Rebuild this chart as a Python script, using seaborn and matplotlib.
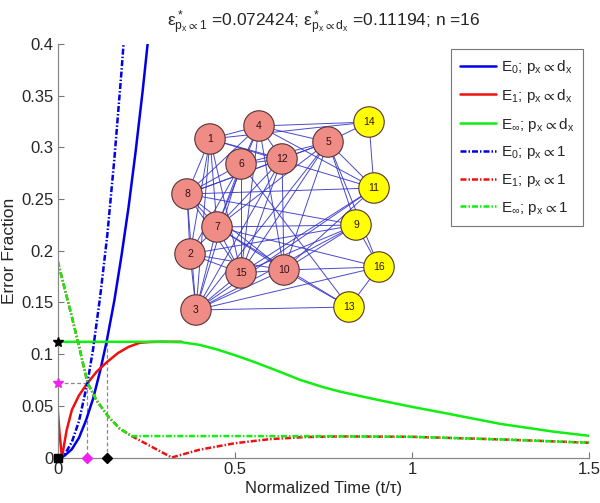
import matplotlib
matplotlib.use('Agg')
import matplotlib.pyplot as plt
import seaborn as sns
import pandas as pd

sns.set_style("ticks")
plt.rcParams['font.family'] = ['Liberation Sans', 'DejaVu Sans']
plt.rcParams['mathtext.default'] = 'regular'
plt.rcParams['axes.unicode_minus'] = False

# ---- curves ----
t_e0_d = [0, 0.01, 0.02, 0.04, 0.06, 0.08, 0.10, 0.12, 0.138, 0.16, 0.18, 0.20, 0.22, 0.24, 0.26]
y_e0_d = [0, 0, 0.002, 0.008, 0.019, 0.036, 0.057, 0.084, 0.112, 0.152, 0.195, 0.242, 0.296, 0.355, 0.42]

t_e1_d = [0, 0.005, 0.012, 0.025, 0.04, 0.06, 0.082, 0.11, 0.138, 0.17, 0.20, 0.232, 0.26, 0.29, 0.35]
y_e1_d = [0.047, 0.024, 0.0, 0.026, 0.046, 0.060, 0.071, 0.083, 0.092, 0.101, 0.107, 0.111, 0.1117, 0.11194, 0.11194]

t_einf_d = [0, 0.1, 0.2, 0.3, 0.35, 0.4, 0.45, 0.5, 0.55, 0.614, 0.685, 0.75, 0.8, 0.9, 1.0, 1.1, 1.25, 1.4, 1.5]
y_einf_d = [0.11194, 0.11194, 0.11194, 0.11194, 0.1115, 0.109, 0.1045, 0.099, 0.093, 0.0847, 0.075,
            0.068, 0.0635, 0.056, 0.049, 0.0425, 0.0325, 0.025, 0.021]

t_e0_1 = [0, 0.01, 0.02, 0.04, 0.06, 0.084, 0.10, 0.12, 0.14, 0.16, 0.18, 0.19]
y_e0_1 = [0, 0, 0.003, 0.015, 0.035, 0.0724, 0.105, 0.156, 0.215, 0.289, 0.373, 0.419]

t_e1_1 = [0, 0.02, 0.04, 0.06, 0.084, 0.11, 0.143, 0.175, 0.209, 0.322, 0.4, 0.5, 0.6, 0.7, 0.8, 1.0, 1.25, 1.5]
y_e1_1 = [0.19, 0.163, 0.136, 0.108, 0.0724, 0.055, 0.0395, 0.028, 0.0207, 0.0, 0.0075, 0.0138, 0.0178,
          0.0198, 0.0204, 0.020, 0.0175, 0.0143]

t_einf_1 = [0, 0.02, 0.04, 0.06, 0.084, 0.11, 0.143, 0.175, 0.209, 0.3, 0.5, 0.7, 0.9, 1.0, 1.25, 1.5]
y_einf_1 = [0.19, 0.163, 0.136, 0.108, 0.0724, 0.055, 0.0395, 0.028, 0.0207, 0.0207, 0.0207, 0.0206,
            0.0203, 0.020, 0.0175, 0.0143]

eps_1 = 0.072424
eps_d = 0.11194
t_cross_1 = 0.084
t_cross_d = 0.138

labels = [r'$E_0$; $p_x \propto d_x$', r'$E_1$; $p_x \propto d_x$', r'$E_\infty$; $p_x \propto d_x$',
          r'$E_0$; $p_x \propto 1$', r'$E_1$; $p_x \propto 1$', r'$E_\infty$; $p_x \propto 1$']

# ---- network inset ----
node_ids = list(range(1, 17))
node_x = [210, 190, 196, 259, 328, 241, 217, 187, 356, 284, 374, 282, 349, 369, 241, 379]
node_y = [139, 254, 310, 126, 142, 164, 227, 194, 225, 270, 188, 159, 307, 122, 273, 267]
yellow_nodes = [9, 11, 13, 14, 16]
edges = [(1, 4), (1, 8), (1, 2), (1, 7), (1, 12), (1, 15), (1, 3), (1, 14), (1, 11),
         (4, 6), (4, 8), (4, 12), (4, 10), (4, 7), (4, 15), (4, 14), (4, 11), (4, 5),
         (6, 8), (6, 12), (6, 7), (6, 15), (6, 3), (6, 2), (6, 5), (6, 13),
         (12, 5), (12, 8), (12, 7), (12, 15), (12, 3), (12, 10),
         (5, 7), (5, 15), (5, 3), (5, 10), (5, 8), (5, 9), (5, 16), (5, 14), (5, 11),
         (8, 7), (8, 2), (8, 10), (8, 3), (8, 11), (8, 9), (8, 15),
         (7, 2), (7, 15), (7, 10), (7, 3), (7, 16), (7, 13), (7, 9),
         (2, 3), (2, 15), (2, 10), (2, 9),
         (15, 3), (15, 10), (15, 9), (15, 11),
         (10, 3), (10, 9), (10, 11), (10, 16), (10, 13),
         (3, 13), (3, 16), (3, 9), (3, 11),
         (9, 16), (16, 13), (14, 11)]

W, H = 600, 503
fig = plt.figure(figsize=(6.0, 5.03), dpi=100)
ax = fig.add_axes([57.7 / W, 1 - 457.5 / H, 531.3 / W, 413.5 / H])

dashdot = (0, (2.4, 0.8, 0.6, 0.8))
blue, red, green = '#0000e6', '#ee1111', '#11ee11'
series = [(t_e0_d, y_e0_d, blue, '-'), (t_e1_d, y_e1_d, red, '-'), (t_einf_d, y_einf_d, green, '-'),
          (t_e0_1, y_e0_1, blue, dashdot), (t_e1_1, y_e1_1, red, dashdot), (t_einf_1, y_einf_1, green, dashdot)]
for (tt, yy, c, ls), lab in zip(series, labels):
    df = pd.DataFrame({'t': tt, 'y': yy})
    sns.lineplot(data=df, x='t', y='y', ax=ax, color=c, linestyle=ls, lw=1.8, label=lab,
                 estimator=None, sort=False)

# crossing guides
ax.plot([0, t_cross_1], [eps_1, eps_1], color='#888888', lw=0.9, ls=(0, (3, 2)), zorder=1)
ax.plot([t_cross_1, t_cross_1], [eps_1, 0], color='#888888', lw=0.9, ls=(0, (3, 2)), zorder=1)
ax.plot([0, t_cross_d], [eps_d, eps_d], color='#888888', lw=0.9, ls=(0, (3, 2)), zorder=1)
ax.plot([t_cross_d, t_cross_d], [eps_d, 0], color='#888888', lw=0.9, ls=(0, (3, 2)), zorder=1)
ax.plot([0], [eps_d], marker='*', color='black', ms=7, clip_on=False, zorder=5)
ax.plot([0], [eps_1], marker='*', color='#ee22ee', ms=7, clip_on=False, zorder=5)
ax.plot([0], [0], marker='s', color='black', ms=6, clip_on=False, zorder=5)
ax.plot([t_cross_1], [0], marker='D', color='#ee22ee', ms=5.5, clip_on=False, zorder=5)
ax.plot([t_cross_d], [0], marker='D', color='black', ms=5.5, clip_on=False, zorder=5)

ax.set_xlim(0, 1.5)
ax.set_ylim(0, 0.4)
ax.set_xticks([0, 0.5, 1, 1.5])
ax.set_xticklabels(['0', '0.5', '1', '1.5'])
ax.set_yticks([0, 0.05, 0.1, 0.15, 0.2, 0.25, 0.3, 0.35, 0.4])
ax.set_yticklabels(['0', '0.05', '0.1', '0.15', '0.2', '0.25', '0.3', '0.35', '0.4'])
ax.tick_params(direction='in', length=4.5, width=0.8, color='#777777', labelsize=12, pad=3)
for s in ['top', 'right']:
    ax.spines[s].set_visible(False)
for s in ['left', 'bottom']:
    ax.spines[s].set_color('#888888')
    ax.spines[s].set_linewidth(0.9)
ax.set_xlabel('Normalized Time (t/τ)', fontsize=12, labelpad=3)
ax.set_ylabel('Error Fraction', fontsize=12.5, labelpad=3)
ax.set_title(r'$\varepsilon^*_{p_x \propto 1}$ =0.072424; $\varepsilon^*_{p_x \propto d_x}$ =0.11194; n =16',
             fontsize=12.5, pad=12)

leg = ax.legend(loc='upper right', bbox_to_anchor=(0.989, 0.988), borderaxespad=0, fontsize=11,
                handlelength=2.35, labelspacing=0.7, fancybox=False, framealpha=1, borderpad=0.6,
                handletextpad=0.3)
leg.get_frame().set_edgecolor('#777777')
leg.get_frame().set_linewidth(0.8)

# inset network
ax2 = fig.add_axes([165 / W, 1 - 330 / H, 235 / W, 230 / H])
ax2.set_xlim(165, 400)
ax2.set_ylim(330, 100)
ax2.axis('off')
pos = {n: (x, y) for n, x, y in zip(node_ids, node_x, node_y)}
for a, b in edges:
    ax2.plot([pos[a][0], pos[b][0]], [pos[a][1], pos[b][1]], color='#3535c8', lw=0.7, alpha=0.9, zorder=1)
node_df = pd.DataFrame({'id': node_ids, 'x': node_x, 'y': node_y})
node_df['grp'] = ['yellow' if n in yellow_nodes else 'pink' for n in node_ids]
sns.scatterplot(data=node_df, x='x', y='y', hue='grp', palette={'pink': '#f08c86', 'yellow': '#ffff00'},
                s=480, edgecolor='#553333', linewidth=0.8, ax=ax2, legend=False, zorder=3)
for n, x, y in zip(node_ids, node_x, node_y):
    ax2.text(x, y, str(n), ha='center', va='center', fontsize=7.5, color='#331111', zorder=4)
ax2.set_xlabel('')
ax2.set_ylabel('')

fig.savefig('out.png', dpi=100)
